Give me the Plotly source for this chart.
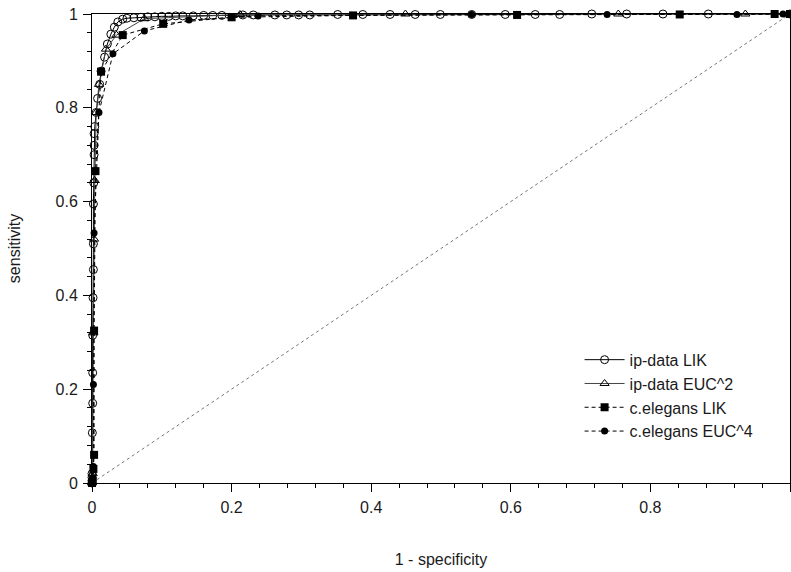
import plotly.graph_objects as go

# ---- data ----
ip_lik_x = [0, 0, 0, 0, 0.0005, 0.001, 0.001, 0.001, 0.0015, 0.002, 0.002, 0.002, 0.0025,
            0.003, 0.003, 0.003, 0.004, 0.006, 0.008, 0.011, 0.013, 0.018, 0.022, 0.027,
            0.032, 0.037, 0.044, 0.05, 0.06, 0.07, 0.08, 0.09, 0.10, 0.11, 0.12, 0.13,
            0.145, 0.16, 0.173, 0.186, 0.216, 0.231, 0.262, 0.279, 0.296, 0.312, 0.352,
            0.388, 0.427, 0.463, 0.499, 0.544, 0.592, 0.635, 0.670, 0.716, 0.766, 0.818,
            0.883, 1.0]
ip_lik_y = [0, 0.005, 0.012, 0.02, 0.107, 0.17, 0.235, 0.315, 0.395, 0.455, 0.51, 0.595,
            0.64, 0.70, 0.72, 0.745, 0.76, 0.79, 0.82, 0.85, 0.878, 0.908, 0.936, 0.957,
            0.972, 0.983, 0.989, 0.991, 0.992, 0.993, 0.994, 0.994, 0.995, 0.995, 0.996,
            0.996, 0.996, 0.997, 0.997, 0.997, 0.998, 0.998, 0.998, 0.998, 0.998, 0.998,
            0.999, 0.999, 0.999, 0.999, 0.999, 0.999, 0.999, 0.999, 0.999, 1.0, 1.0, 1.0,
            1.0, 1.0]

ip_euc_x = [0, 0.001, 0.002, 0.003, 0.004, 0.006, 0.010, 0.020, 0.035, 0.075, 0.212,
            0.449, 0.754, 0.936, 1.0]
ip_euc_y = [0, 0.02, 0.32, 0.52, 0.645, 0.79, 0.85, 0.925, 0.955, 0.99, 0.999,
            1.0, 1.0, 1.0, 1.0]

ce_lik_x = [0, 0.001, 0.002, 0.003, 0.003, 0.005, 0.013, 0.044, 0.102, 0.200, 0.374,
            0.609, 0.842, 0.978, 1.0]
ce_lik_y = [0, 0.005, 0.03, 0.06, 0.325, 0.665, 0.877, 0.955, 0.979, 0.993, 0.997,
            0.998, 0.999, 1.0, 1.0]

ce_euc_x = [0, 0.001, 0.002, 0.002, 0.003, 0.010, 0.030, 0.075, 0.139, 0.238, 0.544,
            0.738, 0.924, 0.990, 1.0]
ce_euc_y = [0, 0.01, 0.035, 0.21, 0.533, 0.79, 0.915, 0.964, 0.987, 0.996, 0.999,
            0.999, 0.999, 1.0, 1.0]

diag_x = [0, 1]
diag_y = [0, 1]

x_ticks = [0, 0.2, 0.4, 0.6, 0.8, 1]
x_tick_labels = ["0", "0.2", "0.4", "0.6", "0.8", "1"]
y_ticks = [0, 0.2, 0.4, 0.6, 0.8, 1]
y_tick_labels = ["0", "0.2", "0.4", "0.6", "0.8", "1"]

FONT = "Liberation Sans, Arial, Helvetica, sans-serif"
TXT = "#1a1a1a"

fig = go.Figure()

fig.add_trace(go.Scatter(
    x=diag_x, y=diag_y, mode="lines", showlegend=False, hoverinfo="skip",
    line=dict(color="#777777", width=1, dash="dot")))

fig.add_trace(go.Scatter(
    x=ip_lik_x, y=ip_lik_y, mode="lines+markers", name="ip-data LIK",
    legendgroup="a", cliponaxis=False,
    line=dict(color="black", width=1),
    marker=dict(symbol="circle-open", size=8, color="black", line=dict(width=1))))

fig.add_trace(go.Scatter(
    x=ip_euc_x, y=ip_euc_y, mode="lines+markers", name="ip-data EUC^2",
    legendgroup="b", cliponaxis=False,
    line=dict(color="#444444", width=1),
    marker=dict(symbol="triangle-up-open", size=8, color="black", line=dict(width=1))))

fig.add_trace(go.Scatter(
    x=ce_lik_x, y=ce_lik_y, mode="lines+markers", name="c.elegans LIK",
    legendgroup="c", cliponaxis=False,
    line=dict(color="black", width=1, dash="4px,3px"),
    marker=dict(symbol="square", size=8, color="black")))

fig.add_trace(go.Scatter(
    x=ce_euc_x, y=ce_euc_y, mode="lines+markers", name="c.elegans EUC^4",
    legendgroup="d", cliponaxis=False,
    line=dict(color="black", width=1, dash="4px,3px"),
    marker=dict(symbol="circle", size=7, color="black")))

axis_common = dict(
    showgrid=False, zeroline=False, showline=True, linecolor="black", linewidth=1,
    mirror=True, ticks="outside", ticklen=8, tickwidth=1, tickcolor="black",
    tickfont=dict(family=FONT, size=16, color=TXT), automargin=False,
)

fig.update_xaxes(
    range=[0, 1], tickvals=x_ticks, ticktext=x_tick_labels, ticklabelstandoff=2,
    title=dict(text="1 - specificity", font=dict(family=FONT, size=16, color=TXT), standoff=38),
    minor=dict(ticks="outside", dtick=0.04, ticklen=4, tickcolor="black", tickwidth=1),
    **axis_common)
fig.update_yaxes(
    range=[0, 1], tickvals=y_ticks, ticktext=y_tick_labels, ticklabelstandoff=2,
    title=dict(text="sensitivity", font=dict(family=FONT, size=16, color=TXT), standoff=30),
    minor=dict(ticks="outside", dtick=0.04, ticklen=4, tickcolor="black", tickwidth=1),
    **axis_common)

fig.update_layout(
    width=791, height=572,
    margin=dict(l=92, r=1, t=14, b=89),
    plot_bgcolor="white", paper_bgcolor="white",
    font=dict(family=FONT, size=16, color=TXT),
    legend=dict(x=0.955, xanchor="right", y=0.299, yanchor="top",
                bgcolor="rgba(0,0,0,0)", tracegroupgap=0,
                font=dict(family=FONT, size=16, color=TXT),
                itemwidth=40),
)

fig.write_html(
    "out.html",
    config={"displayModeBar": False},
    post_script="document.body.style.margin='0';document.body.style.overflow='hidden';",
)
